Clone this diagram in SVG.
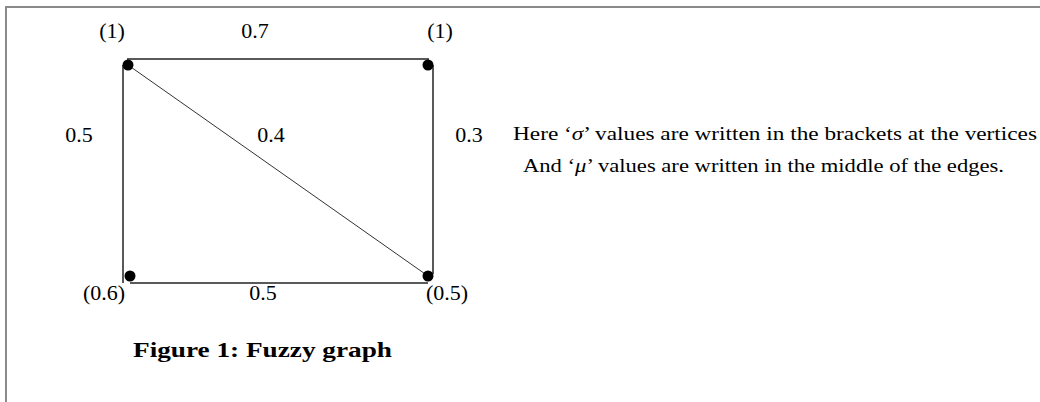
<svg xmlns="http://www.w3.org/2000/svg" width="1040" height="402" viewBox="0 0 1040 402">
<style>
.t{font-family:"Liberation Serif","Times New Roman",serif;font-size:22px;fill:#000}
.n{font-family:"Liberation Serif","Times New Roman",serif;font-size:19px;fill:#000}
.e{stroke:#222;stroke-width:1.5;fill:none}
.d{stroke:#333;stroke-width:1;fill:none}
</style>
<rect width="1040" height="402" fill="#fff"/>
<path d="M6,402 V7 H1040" stroke="#8a8a8a" stroke-width="2" fill="none"/>
<g id="edges">
<line class="e" x1="127" y1="59" x2="429" y2="59"/>
<line class="e" x1="123" y1="65" x2="123" y2="283"/>
<line class="e" x1="433" y1="65" x2="433" y2="274"/>
<line class="e" x1="130" y1="283" x2="428" y2="283"/>
<line class="d" x1="128" y1="65" x2="428" y2="276"/>
</g>
<g id="v1"><circle cx="128" cy="65" r="5.5"/><text class="t" x="112" y="38" text-anchor="middle">(1)</text></g>
<g id="v2"><circle cx="428" cy="65" r="5.5"/><text class="t" x="440" y="38" text-anchor="middle">(1)</text></g>
<g id="v3"><circle cx="130" cy="276" r="5.5"/><text class="t" x="104" y="300" text-anchor="middle">(0.6)</text></g>
<g id="v4"><circle cx="428" cy="276" r="5.5"/><text class="t" x="447" y="300" text-anchor="middle">(0.5)</text></g>
<g id="labels">
<text class="t" x="255" y="38" text-anchor="middle">0.7</text>
<text class="t" x="79" y="142" text-anchor="middle">0.5</text>
<text class="t" x="271" y="142" text-anchor="middle">0.4</text>
<text class="t" x="469" y="142" text-anchor="middle">0.3</text>
<text class="t" x="263" y="300" text-anchor="middle">0.5</text>
<text class="t" x="133" y="357" font-weight="bold" font-size="26" textLength="259" lengthAdjust="spacingAndGlyphs">Figure 1: Fuzzy graph</text>
<text class="n" x="513" y="140" textLength="524" lengthAdjust="spacingAndGlyphs">Here ‘<tspan font-style="italic">σ</tspan>’ values are written in the brackets at the vertices</text>
<text class="n" x="523" y="172" textLength="481" lengthAdjust="spacingAndGlyphs">And ‘<tspan font-style="italic">μ</tspan>’ values are written in the middle of the edges.</text>
</g>
</svg>
